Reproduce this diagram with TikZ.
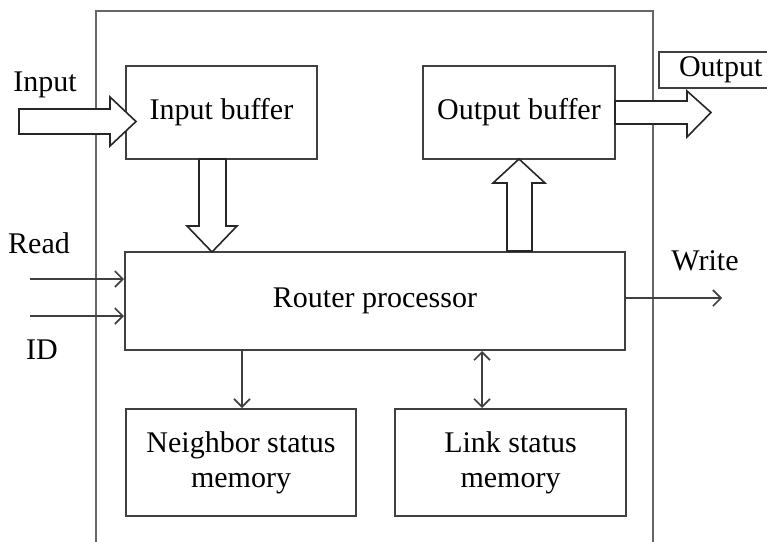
\documentclass[tikz,border=0pt]{standalone}
\usepackage{fontspec}
\setmainfont{Liberation Serif}
\usetikzlibrary{arrows.meta}

\colorlet{framegray}{black!60}
\colorlet{boxgray}{black!75}
\tikzset{
  unitbox/.style={draw=boxgray, line width=1.5pt, fill=white, align=center,
    inner sep=0pt, font=\fontsize{22.5}{26}\selectfont},
  sigline/.style={draw=boxgray, line width=1.5pt, -{Straight Barb[length=6pt,width=12pt,line width=1.2pt]}},
  fatarrow/.style={draw=black!85, line width=1.2pt, fill=white, line join=miter},
  siglabel/.style={font=\fontsize{22.5}{26}\selectfont, inner sep=0pt}
}

\begin{document}
\begin{tikzpicture}[x=0.75pt, y=-0.75pt]
  \useasboundingbox (0,0) rectangle (767,542);
  \clip (0,0) rectangle (767,542);

  % outer router frame
  \draw[draw=framegray, line width=2.2pt] (96,600) |- (653,11) -- (653,600);

  % Buffers
  \node[unitbox, minimum width=191*0.75pt, minimum height=93*0.75pt] (inbuf) at (221.5,112.5) {Input buffer};
  \node[unitbox, minimum width=192*0.75pt, minimum height=93*0.75pt] (outbuf) at (519,112.5) {Output buffer};

  % Router core and memories
  \node[unitbox, minimum width=500*0.75pt, minimum height=98*0.75pt] (router) at (375,301) {Router processor};
  \node[unitbox, minimum width=230*0.75pt, minimum height=107*0.75pt] (nbmem) at (241,462.5) {Neighbor status\\memory};
  \node[unitbox, minimum width=231*0.75pt, minimum height=107*0.75pt] (lkmem) at (510.5,462.5) {Link status\\memory};

  % Output tag (open to the right)
  \node[unitbox, anchor=west, inner xsep=20*0.75pt, minimum height=36*0.75pt,
        text width=100*0.75pt, align=left] (outtag) at (658,70) {Output};

  % Side labels
  \node[siglabel] (inlbl) at (45,85) {Input};
  \node[siglabel] (rdlbl) at (39,243) {Read};
  \node[siglabel] (idlbl) at (42,350) {ID};
  \node[siglabel] (wrlbl) at (705,261) {Write};

  % Fat arrows for data flow
  \coordinate (intip) at (136,121.5);
  \draw[fatarrow] (intip) -- ++(-26,-24.5) -- ++(0,12) -- ++(-91,0) -- ++(0,25)
    -- ++(91,0) -- ++(0,12) -- cycle;
  \coordinate (downtip) at (212,252);
  \draw[fatarrow] (downtip) -- ++(-25,-26) -- ++(12,0) -- ++(0,-67) -- ++(27,0)
    -- ++(0,67) -- ++(11,0) -- cycle;
  \coordinate (uptip) at (519,159);
  \draw[fatarrow] (uptip) -- ++(-26,24) -- ++(14,0) -- ++(0,68) -- ++(25,0)
    -- ++(0,-68) -- ++(13,0) -- cycle;
  \coordinate (outtip) at (711,112.5);
  \draw[fatarrow] (outtip) -- ++(-24,-21.5) -- ++(0,10) -- ++(-72,0) -- ++(0,23)
    -- ++(72,0) -- ++(0,13) -- cycle;

  % Control signals
  \coordinate (rdstart) at (30,279);
  \coordinate (idstart) at (30,316);
  \coordinate (wrend) at (722,298);
  \draw[sigline] (rdstart) -- (rdstart -| router.west);
  \draw[sigline] (idstart) -- (idstart -| router.west);
  \draw[sigline] (router.east |- wrend) -- (wrend);
  \draw[sigline] (router.south -| nbmem.north) ++(1,0) -- ([xshift=0.75pt]nbmem.north);
  \draw[sigline, {Straight Barb[length=6pt,width=12pt,line width=1.2pt]}-{Straight Barb[length=6pt,width=12pt,line width=1.2pt]}]
    (router.south -| 482,0) -- (lkmem.north -| 482,0);
\end{tikzpicture}
\end{document}
